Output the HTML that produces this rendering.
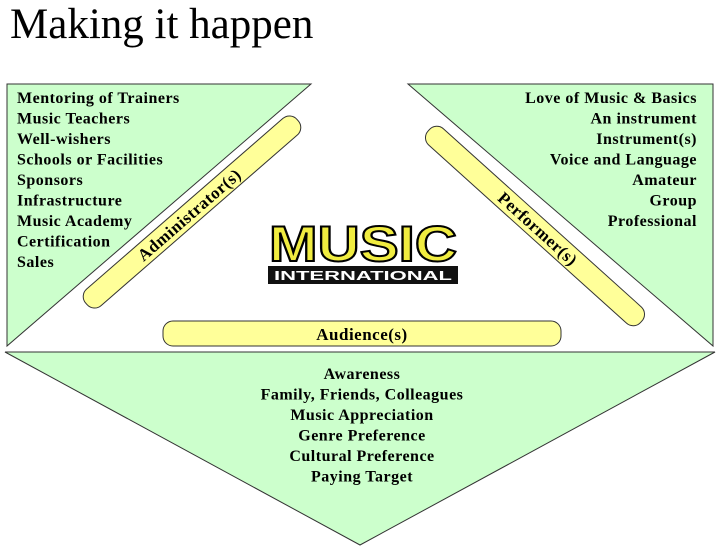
<!DOCTYPE html>
<html><head><style>
body{margin:0;background:#fff;}
svg{display:block;}
text{font-family:"Liberation Serif",serif;font-weight:bold;font-size:16px;letter-spacing:0.5px;fill:#000;}
</style></head><body>
<svg width="720" height="550" xmlns="http://www.w3.org/2000/svg">
<text x="10" y="38" style="font-weight:normal;font-size:43px;letter-spacing:0">Making it happen</text>
<polygon points="7,84 311,84 7,346" fill="#ccffcc" stroke="#333" stroke-width="1"/>
<polygon points="408,84 713,84 713,346" fill="#ccffcc" stroke="#333" stroke-width="1"/>
<polygon points="5,352 715,352 360,545" fill="#ccffcc" stroke="#333" stroke-width="1"/>
<g>
<text x="17" y="103">Mentoring of Trainers</text>
<text x="17" y="123.5">Music Teachers</text>
<text x="17" y="144">Well-wishers</text>
<text x="17" y="164.5">Schools or Facilities</text>
<text x="17" y="185">Sponsors</text>
<text x="17" y="205.5">Infrastructure</text>
<text x="17" y="226">Music Academy</text>
<text x="17" y="246.5">Certification</text>
<text x="17" y="267">Sales</text>
</g>
<g text-anchor="end">
<text x="697" y="103">Love of Music &amp; Basics</text>
<text x="697" y="123.5">An instrument</text>
<text x="697" y="144">Instrument(s)</text>
<text x="697" y="164.5">Voice and Language</text>
<text x="697" y="185">Amateur</text>
<text x="697" y="205.5">Group</text>
<text x="697" y="226">Professional</text>
</g>
<g transform="translate(192,212) rotate(-41)">
<rect x="-140" y="-11" width="280" height="22" rx="10" fill="#ffff99" stroke="#333"/>
<text x="-4" y="6" text-anchor="middle" style="font-size:17px">Administrator(s)</text>
</g>
<g transform="translate(535,226) rotate(42)">
<rect x="-143" y="-11" width="286" height="22" rx="10" fill="#ffff99" stroke="#333"/>
<text x="4" y="6" text-anchor="middle" style="font-size:17px">Performer(s)</text>
</g>
<rect x="163" y="321" width="398" height="25" rx="10" fill="#ffff99" stroke="#333"/>
<text x="362" y="340" text-anchor="middle" style="font-size:17px">Audience(s)</text>
<g text-anchor="middle">
<text x="362" y="379">Awareness</text>
<text x="362" y="399.5">Family, Friends, Colleagues</text>
<text x="362" y="420">Music Appreciation</text>
<text x="362" y="440.5">Genre Preference</text>
<text x="362" y="461">Cultural Preference</text>
<text x="362" y="481.5">Paying Target</text>
</g>
<text x="363" y="261" text-anchor="middle" textLength="188" lengthAdjust="spacingAndGlyphs" style="font-family:'Liberation Sans',sans-serif;font-weight:bold;font-size:50px;letter-spacing:0;fill:#f0ec40;stroke:#000;stroke-width:2">MUSIC</text>
<rect x="268" y="266" width="190" height="18" fill="#111"/>
<text x="363" y="280" text-anchor="middle" textLength="178" lengthAdjust="spacingAndGlyphs" style="font-family:'Liberation Sans',sans-serif;font-weight:bold;font-size:13px;letter-spacing:0;fill:#fff">INTERNATIONAL</text>
</svg>
</body></html>
